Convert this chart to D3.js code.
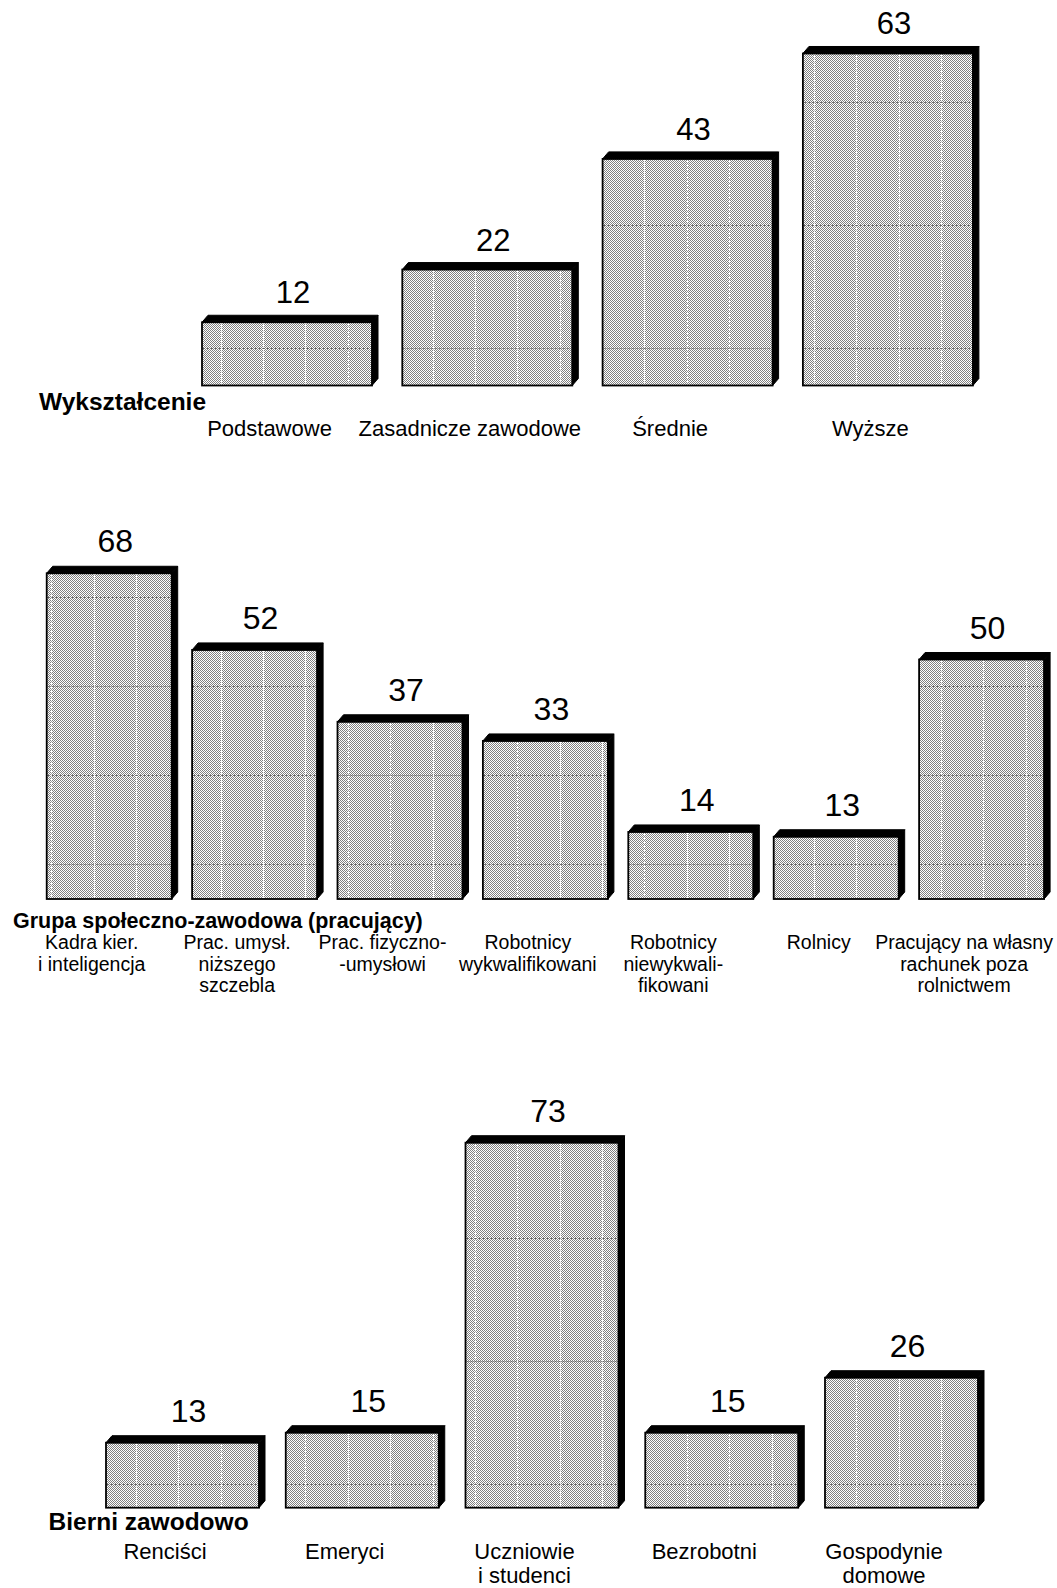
<!DOCTYPE html>
<html><head><meta charset="utf-8">
<script src="https://cdn.jsdelivr.net/npm/d3@7"></script>
<style>
body{margin:0;background:#fff}
svg{display:block}
text{font-family:"Liberation Sans",Arial,Helvetica,sans-serif;fill:#000}
</style>
</head><body>
<svg id="c" width="1057" height="1588"></svg>
<script>
// ---------- DATA ----------
const eduTitle = "Wykształcenie";
const eduCategories = [["Podstawowe"], ["Zasadnicze zawodowe"], ["Średnie"], ["Wyższe"]];
const eduValues = [12, 22, 43, 63];

const occTitle = "Grupa społeczno-zawodowa (pracujący)";
const occCategories = [
  ["Kadra kier.", "i inteligencja"],
  ["Prac. umysł.", "niższego", "szczebla"],
  ["Prac. fizyczno-", "-umysłowi"],
  ["Robotnicy", "wykwalifikowani"],
  ["Robotnicy", "niewykwali-", "fikowani"],
  ["Rolnicy"],
  ["Pracujący na własny", "rachunek poza", "rolnictwem"]
];
const occValues = [68, 52, 37, 33, 14, 13, 50];

const inTitle = "Bierni zawodowo";
const inCategories = [["Renciści"], ["Emeryci"], ["Uczniowie", "i studenci"], ["Bezrobotni"], ["Gospodynie", "domowe"]];
const inValues = [13, 15, 73, 15, 26];

// ---------- LAYOUT ----------
const depth = {dx: 6, dy: 7};
const vGrid = {start: 136, step: 42.37};
const panels = [
  {title: eduTitle, cats: eduCategories, vals: eduValues,
   x0: 202, step: 200.3, bw: 170, base: 385.5, ppu: 5.27,
   valueSize: 31, valueGap: 12, labelSize: 22, titleSize: 24.5, titleX: 39, titleY: 409.5,
   labelY: 436, lineH: 24, hGridOff: 37.5, hGridStep: 123},
  {title: occTitle, cats: occCategories, vals: occValues,
   x0: 46.7, step: 145.4, bw: 125, base: 899, ppu: 4.79,
   valueSize: 32, valueGap: 14, labelSize: 19.5, titleSize: 21.5, titleX: 13, titleY: 927.5,
   labelY: 949, lineH: 21.5, hGridOff: 35, hGridStep: 89},
  {title: inTitle, cats: inCategories, vals: inValues,
   x0: 106, step: 179.75, bw: 153, base: 1507.7, ppu: 5.0,
   valueSize: 32, valueGap: 14, labelSize: 22, titleSize: 24.5, titleX: 48.5, titleY: 1530,
   labelY: 1558.5, lineH: 24, hGridOff: 23.4, hGridStep: 123}
];
const labelShift = -17.5;

const svg = d3.select("#c");
const defs = svg.append("defs");
const pat = defs.append("pattern").attr("id", "chk")
  .attr("width", 2).attr("height", 2).attr("patternUnits", "userSpaceOnUse");
pat.append("rect").attr("width", 2).attr("height", 2).attr("fill", "#ffffff");
pat.append("rect").attr("x", 0).attr("y", 0).attr("width", 1).attr("height", 1).attr("fill", "#808080");
pat.append("rect").attr("x", 1).attr("y", 1).attr("width", 1).attr("height", 1).attr("fill", "#808080");

panels.forEach((p, pi) => {
  const n = p.cats.length;
  const keys = p.cats.map(c => c.join(" "));
  const x = d3.scaleBand().domain(keys)
    .range([p.x0, p.x0 + (n - 1) * p.step + p.bw])
    .paddingInner((p.step - p.bw) / p.step).paddingOuter(0);
  const maxV = 80;
  const y = d3.scaleLinear().domain([0, maxV]).range([p.base, p.base - maxV * p.ppu]);

  const g = svg.append("g").attr("class", "panel" + pi);

  const bars = g.selectAll("g.bar").data(p.vals.map((v, i) => ({v, k: keys[i], lines: p.cats[i]})))
    .enter().append("g").attr("class", "bar");

  bars.each(function(d) {
    const sel = d3.select(this);
    const x0 = x(d.k), x1 = x0 + x.bandwidth();
    const yt = y(d.v), yb = y(0);
    const {dx, dy} = depth;
    // front face
    sel.append("rect").attr("x", x0).attr("y", yt).attr("width", x1 - x0).attr("height", yb - yt)
      .attr("fill", "url(#chk)").attr("shape-rendering", "crispEdges");
    // vertical grid lines seen through the bar
    const kStart = Math.ceil((x0 + 2 - vGrid.start) / vGrid.step);
    const vx = [];
    for (let k = kStart; vGrid.start + k * vGrid.step < x1 - 2; k++) vx.push(vGrid.start + k * vGrid.step);
    sel.selectAll("line.vg").data(vx).enter().append("line").attr("class", "vg")
      .attr("x1", v => Math.round(v) + 0.5).attr("x2", v => Math.round(v) + 0.5)
      .attr("y1", yt + 1).attr("y2", yb - 1)
      .attr("stroke", "#ffffff").attr("stroke-width", 1).attr("stroke-dasharray", "3,1");
    // horizontal grid lines
    const hy = [];
    for (let k = -3; k < 10; k++) {
      const yy = p.base - p.hGridOff - k * p.hGridStep;
      if (yy > yt + 3 && yy < yb - 3) hy.push(yy);
    }
    sel.selectAll("line.hg").data(hy).enter().append("line").attr("class", "hg")
      .attr("x1", x0 + 1).attr("x2", x1 - 1)
      .attr("y1", v => Math.round(v) + 0.5).attr("y2", v => Math.round(v) + 0.5)
      .attr("stroke", "#666").attr("stroke-width", 1).attr("stroke-dasharray", "2,2");
    // outline
    sel.append("rect").attr("x", x0).attr("y", yt).attr("width", x1 - x0).attr("height", yb - yt)
      .attr("fill", "none").attr("stroke", "#000").attr("stroke-width", 1.8);
    // top face
    sel.append("polygon")
      .attr("points", [[x0, yt], [x0 + dx, yt - dy], [x1 + dx, yt - dy], [x1, yt]].map(q => q.join(",")).join(" "))
      .attr("fill", "#000").attr("stroke", "#000").attr("stroke-width", 1);
    // side face
    sel.append("polygon")
      .attr("points", [[x1, yt], [x1 + dx, yt - dy], [x1 + dx, yb - dy], [x1, yb]].map(q => q.join(",")).join(" "))
      .attr("fill", "#000").attr("stroke", "#000").attr("stroke-width", 1);
    // value label
    sel.append("text").attr("x", (x0 + x1) / 2 + dx).attr("y", yt - dy - p.valueGap)
      .attr("text-anchor", "middle").attr("font-size", p.valueSize).text(d.v);
    // category label
    const t = sel.append("text").attr("text-anchor", "middle").attr("font-size", p.labelSize)
      .attr("x", (x0 + x1) / 2 + labelShift).attr("y", p.labelY);
    d.lines.forEach((ln, li) => {
      t.append("tspan").attr("x", (x0 + x1) / 2 + labelShift).attr("y", p.labelY + li * p.lineH).text(ln);
    });
  });

  g.append("text").attr("x", p.titleX).attr("y", p.titleY)
    .attr("font-size", p.titleSize).attr("font-weight", "bold").text(p.title);
});
</script>
</body></html>
